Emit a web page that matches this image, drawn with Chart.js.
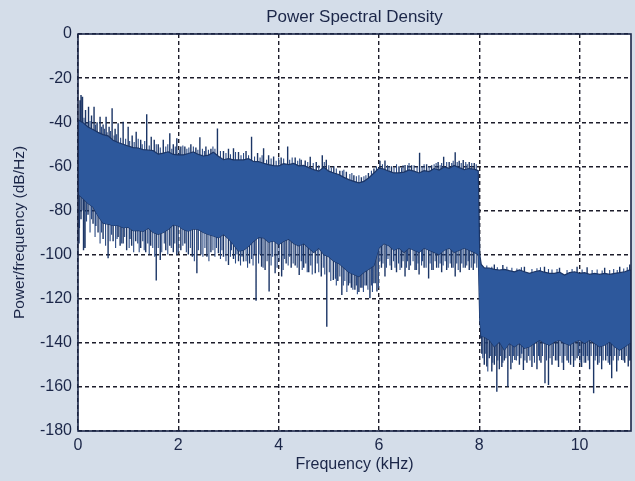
<!DOCTYPE html>
<html>
<head>
<meta charset="utf-8">
<script src="https://cdn.jsdelivr.net/npm/chart.js@4.4.1/dist/chart.umd.min.js"></script>
<style>
  html, body { margin: 0; padding: 0; background: #d4dde9; }
  #wrap { width: 635px; height: 481px; }
</style>
</head>
<body>
<div id="wrap"><canvas id="psd" width="635" height="481"></canvas></div>
<script>
// Frequency grid of the spectrum envelope (kHz)
const freqKHz = [
  0.0, 0.1, 0.2, 0.3, 0.4, 0.5, 0.6, 0.7, 0.8, 0.9,
  1.0, 1.1, 1.2, 1.3, 1.4, 1.5, 1.6, 1.7, 1.8, 1.9,
  2.0, 2.1, 2.2, 2.3, 2.4, 2.5, 2.6, 2.7, 2.8, 2.9,
  3.0, 3.1, 3.2, 3.3, 3.4, 3.5, 3.6, 3.7, 3.8, 3.9,
  4.0, 4.1, 4.2, 4.3, 4.4, 4.5, 4.6, 4.7, 4.8, 4.9,
  5.0, 5.1, 5.2, 5.3, 5.4, 5.5, 5.6, 5.7, 5.8, 5.9,
  6.0, 6.1, 6.2, 6.3, 6.4, 6.5, 6.6, 6.7, 6.8, 6.9,
  7.0, 7.1, 7.2, 7.3, 7.4, 7.5, 7.6, 7.7, 7.8, 7.9,
  7.98, 8.01, 8.04,
  8.1, 8.2, 8.3, 8.4, 8.5, 8.6, 8.7, 8.8, 8.9,
  9.0, 9.1, 9.2, 9.3, 9.4, 9.5, 9.6, 9.7, 9.8, 9.9,
  10.0, 10.1, 10.2, 10.3, 10.4, 10.5, 10.6, 10.7, 10.8, 10.9,
  11.0, 11.025
];

// Upper edge of the noise band (dB/Hz)
const upperDb = [
  -38.9, -40.2, -42.2, -43.3, -44.6, -45.6, -46.2, -48.2, -49.2, -50.0,
  -50.8, -51.5, -51.7, -52.4, -52.6, -52.9, -54.5, -54.0, -53.4, -54.6,
  -54.8, -54.8, -54.2, -53.5, -54.6, -55.3, -54.9, -53.6, -55.4, -57.0,
  -56.5, -57.1, -57.1, -57.1, -56.5, -57.8, -57.9, -58.6, -59.2, -59.7,
  -59.8, -58.8, -59.2, -58.7, -59.8, -59.6, -60.6, -61.5, -62.2, -60.4,
  -62.2, -63.0, -63.7, -65.0, -66.0, -66.8, -67.5, -66.8, -65.2, -63.0,
  -60.8, -61.3, -62.2, -63.0, -63.0, -62.6, -61.6, -62.2, -63.0, -62.0,
  -62.4, -61.0, -61.7, -60.3, -60.9, -59.6, -60.6, -61.5, -61.0, -61.3,
  -62.0, -100.0, -104.5,
  -106.0, -106.1, -106.7, -107.0, -106.7, -107.3, -107.8, -107.0, -107.8,
  -108.5, -107.8, -107.3, -108.0, -108.5, -108.5, -108.0, -109.3, -108.2, -107.8,
  -108.5, -108.2, -109.0, -108.5, -109.0, -108.5, -109.0, -108.5, -108.2, -107.8,
  -107.0, -107.2
];

// Lower edge of the noise band (dB/Hz)
const lowerDb = [
  -72.5, -74.6, -76.8, -78.4, -82.5, -85.8, -86.2, -86.8, -86.8, -87.8,
  -87.6, -89.2, -89.1, -89.5, -88.0, -90.0, -90.8, -90.0, -88.5, -86.5,
  -87.0, -88.6, -89.4, -88.4, -88.6, -90.0, -90.9, -91.6, -92.4, -90.8,
  -92.8, -95.5, -98.4, -98.0, -96.2, -94.0, -92.2, -92.4, -94.4, -93.8,
  -95.4, -94.0, -93.0, -95.0, -96.0, -95.0, -97.0, -99.0, -97.0, -100.0,
  -101.0, -103.0, -104.0, -106.0, -108.0, -109.0, -110.0, -108.0, -106.5, -105.0,
  -97.0, -95.0, -96.0, -98.0, -97.0, -99.0, -97.0, -98.0, -99.0, -97.0,
  -98.0, -99.0, -100.0, -98.0, -97.0, -99.0, -98.0, -97.0, -98.0, -99.0,
  -100.0, -130.0, -137.0,
  -137.4, -138.7, -141.8, -139.5, -143.3, -140.2, -141.8, -140.2, -142.5,
  -141.8, -140.2, -138.7, -140.2, -141.0, -139.5, -138.7, -140.2, -141.0, -139.5,
  -138.7, -140.2, -138.7, -140.2, -141.8, -141.0, -139.5, -141.8, -143.3, -141.8,
  -140.2, -140.0
];

// Prominent peaks rising above the band: [kHz, dB/Hz]
const peaksUp = [
  [0.04, -30.0], [0.06, -27.7], [0.09, -28.4], [0.15, -34.5], [0.21, -33.0], [0.27, -37.0],
  [0.32, -33.0], [0.38, -40.0], [0.44, -37.5], [0.50, -41.0], [0.56, -37.5], [0.62, -42.0],
  [0.68, -33.7], [0.74, -43.0], [0.80, -40.5], [0.90, -39.8], [1.00, -42.0], [1.08, -46.0],
  [1.16, -44.3], [1.25, -48.0], [1.37, -36.4], [1.46, -46.6], [1.52, -48.0], [1.60, -50.0],
  [1.70, -48.0], [1.83, -45.0], [1.90, -50.0], [1.97, -47.3], [2.05, -51.0], [2.13, -51.0],
  [2.25, -50.0], [2.35, -51.5], [2.43, -46.8], [2.55, -51.0], [2.65, -52.0], [2.78, -42.8],
  [2.90, -53.0], [3.00, -52.0], [3.10, -51.8], [3.20, -53.5], [3.35, -53.0], [3.46, -46.6],
  [3.58, -54.0], [3.70, -51.8], [3.80, -55.0], [3.90, -55.5], [4.05, -56.0], [4.18, -51.0],
  [4.33, -56.0], [4.45, -57.0], [4.53, -57.4], [4.63, -55.6], [4.75, -58.0], [4.87, -55.0],
  [4.95, -57.0], [5.10, -60.0], [5.22, -62.0], [5.35, -62.5], [5.50, -64.0], [5.65, -65.0],
  [5.79, -63.0], [5.90, -61.0], [6.02, -57.5], [6.12, -57.4], [6.25, -60.0], [6.40, -60.0],
  [6.52, -59.4], [6.65, -59.5], [6.81, -53.8], [6.95, -59.0], [7.05, -59.5], [7.18, -58.0],
  [7.29, -55.6], [7.40, -58.0], [7.52, -53.6], [7.60, -57.5], [7.68, -57.1], [7.80, -58.0],
  [7.90, -58.5],
  [8.30, -104.5], [8.47, -104.7], [8.90, -105.5], [9.30, -105.5], [9.60, -106.0],
  [9.95, -105.5], [10.15, -105.8], [10.50, -106.0], [10.80, -105.5], [11.00, -104.5]
];

// Small ripples along the top of the band: [kHz, dB/Hz]
const finePeaks = [
  [0.12, -38.0], [0.18, -40.0], [0.24, -39.5], [0.35, -41.0], [0.47, -42.0], [0.53, -43.0],
  [0.58, -44.5], [0.65, -44.0], [0.72, -46.0], [0.77, -45.5], [0.85, -47.0], [0.95, -47.5],
  [1.03, -48.5], [1.12, -49.0], [1.20, -47.5], [1.28, -50.0], [1.33, -48.5], [1.42, -50.5],
  [1.56, -50.0], [1.64, -51.5], [1.75, -51.0], [1.79, -50.0], [1.87, -52.0], [1.94, -51.0],
  [2.02, -52.5], [2.09, -50.5], [2.17, -52.0], [2.21, -51.5], [2.30, -51.0], [2.39, -52.5],
  [2.48, -52.0], [2.52, -53.0], [2.60, -52.5], [2.69, -51.0], [2.73, -52.0], [2.84, -53.0],
  [2.95, -54.0], [3.04, -54.5], [3.14, -53.5], [3.25, -55.0], [3.30, -54.0], [3.40, -55.0],
  [3.52, -55.5], [3.63, -56.0], [3.67, -55.0], [3.76, -57.0], [3.85, -56.5], [3.95, -57.5],
  [4.00, -56.0], [4.10, -56.5], [4.22, -57.0], [4.27, -56.0], [4.38, -57.5], [4.42, -56.5],
  [4.58, -58.0], [4.69, -58.5], [4.80, -59.5], [4.91, -58.0], [5.00, -59.5], [5.05, -60.5],
  [5.15, -61.0], [5.27, -62.0], [5.30, -61.5], [5.42, -63.5], [5.46, -63.0], [5.55, -64.5],
  [5.60, -64.0], [5.70, -64.5], [5.74, -64.0], [5.85, -62.0], [5.95, -60.0], [6.07, -59.0],
  [6.17, -59.5], [6.20, -60.0], [6.30, -60.5], [6.35, -59.0], [6.45, -60.5], [6.48, -59.5],
  [6.57, -59.5], [6.60, -58.5], [6.70, -59.5], [6.76, -60.0], [6.86, -60.0], [6.90, -59.0],
  [7.00, -60.0], [7.10, -59.0], [7.14, -58.5], [7.22, -59.5], [7.25, -58.5], [7.35, -58.0],
  [7.45, -58.5], [7.48, -57.5], [7.56, -58.0], [7.64, -58.5], [7.73, -58.0], [7.76, -59.0],
  [7.85, -58.5], [7.94, -59.0],
  [8.15, -105.0], [8.25, -105.5], [8.36, -105.8], [8.55, -105.5], [8.65, -106.0], [8.75, -106.3],
  [8.84, -105.8], [9.05, -106.5], [9.15, -106.2], [9.22, -105.8], [9.38, -106.6], [9.45, -106.8],
  [9.55, -106.5], [9.75, -107.0], [9.85, -106.5], [10.05, -106.8], [10.25, -107.0], [10.35, -106.8],
  [10.45, -107.2], [10.60, -107.0], [10.68, -106.5], [10.75, -107.0], [10.88, -106.3], [10.95, -105.8]
];

// Prominent dips falling below the band: [kHz, dB/Hz]
const dipsDown = [
  [0.02, -95.0], [0.06, -84.0], [0.11, -98.0], [0.14, -97.0], [0.20, -82.0], [0.30, -86.0],
  [0.40, -90.0], [0.50, -93.0], [0.60, -101.7], [0.70, -94.0], [0.80, -92.0], [0.84, -96.0],
  [0.90, -95.0], [0.97, -98.0], [1.07, -96.0], [1.15, -94.0], [1.25, -97.0], [1.35, -99.0],
  [1.45, -96.0], [1.56, -111.8], [1.64, -102.5], [1.75, -98.0], [1.83, -96.0], [1.90, -99.0],
  [1.97, -100.2], [2.05, -98.0], [2.13, -95.0], [2.20, -100.0], [2.28, -101.0], [2.37, -108.5],
  [2.45, -100.0], [2.57, -101.0], [2.65, -99.0], [2.80, -99.4], [2.90, -101.0], [3.00, -104.7],
  [3.10, -102.0], [3.20, -103.0], [3.30, -103.2], [3.42, -104.0], [3.55, -120.9], [3.66, -105.5],
  [3.73, -107.0], [3.81, -116.8], [3.93, -108.5], [4.06, -110.0], [4.15, -104.0], [4.25, -106.0],
  [4.33, -105.0], [4.41, -109.3], [4.50, -106.0], [4.60, -108.0], [4.73, -108.5], [4.85, -110.0],
  [4.96, -132.7], [5.09, -111.5], [5.18, -112.0], [5.26, -118.3], [5.39, -114.0], [5.45, -115.0],
  [5.52, -116.0], [5.60, -117.0], [5.66, -115.0], [5.75, -114.0], [5.82, -119.8], [5.90, -113.0],
  [5.96, -116.8], [6.05, -106.0], [6.12, -110.0], [6.25, -107.0], [6.35, -108.0], [6.45, -106.0],
  [6.52, -110.0], [6.60, -107.0], [6.72, -107.0], [6.80, -109.0], [6.90, -106.0], [6.99, -110.8],
  [7.08, -107.0], [7.15, -106.0], [7.25, -108.0], [7.35, -107.0], [7.45, -106.0], [7.52, -110.0],
  [7.62, -108.0], [7.72, -106.0], [7.80, -107.0], [7.88, -107.0],
  [8.03, -138.0], [8.05, -145.0], [8.10, -150.0], [8.15, -150.8], [8.20, -147.0], [8.25, -153.0],
  [8.30, -150.0], [8.35, -162.2], [8.40, -152.0], [8.45, -151.0], [8.50, -148.0], [8.57, -159.9],
  [8.63, -152.0], [8.71, -147.8], [8.80, -150.0], [8.88, -152.3], [8.95, -149.0], [9.05, -151.0],
  [9.15, -152.0], [9.23, -149.0], [9.31, -158.4], [9.38, -159.1], [9.45, -150.0], [9.52, -148.0],
  [9.58, -151.0], [9.68, -152.3], [9.75, -148.0], [9.82, -150.0], [9.88, -151.0], [9.95, -147.0],
  [10.04, -151.0], [10.12, -149.0], [10.20, -152.0], [10.28, -162.9], [10.36, -150.0], [10.44, -152.0],
  [10.52, -148.0], [10.60, -150.0], [10.64, -156.1], [10.74, -153.0], [10.84, -147.8], [10.90, -149.0],
  [10.97, -150.8], [11.01, -148.0]
];

// Short dips along the bottom of the band: [kHz, dB/Hz]
const fineDips = [
  [0.03, -88.0], [0.08, -80.0], [0.17, -85.0], [0.24, -90.0], [0.27, -84.0], [0.34, -92.0],
  [0.36, -87.0], [0.44, -95.0], [0.47, -90.0], [0.55, -96.0], [0.64, -94.0], [0.67, -91.0],
  [0.75, -97.0], [0.78, -93.0], [0.87, -95.0], [0.93, -92.0], [1.02, -97.0], [1.04, -93.0],
  [1.11, -99.0], [1.19, -95.0], [1.22, -99.0], [1.29, -94.0], [1.32, -98.0], [1.39, -95.0],
  [1.42, -100.0], [1.49, -97.0], [1.53, -101.0], [1.60, -97.0], [1.67, -99.0], [1.72, -95.0],
  [1.79, -100.0], [1.86, -97.0], [1.93, -95.0], [2.00, -99.0], [2.09, -96.0], [2.16, -99.0],
  [2.24, -97.0], [2.32, -103.0], [2.40, -98.0], [2.49, -101.0], [2.53, -97.0], [2.61, -103.0],
  [2.69, -98.0], [2.73, -101.0], [2.76, -97.0], [2.84, -102.0], [2.87, -98.0], [2.95, -103.0],
  [3.04, -101.0], [3.06, -98.0], [3.14, -104.0], [3.17, -100.0], [3.24, -105.0], [3.27, -101.0],
  [3.35, -103.0], [3.38, -106.0], [3.46, -102.0], [3.49, -105.0], [3.52, -100.0], [3.60, -104.0],
  [3.63, -100.0], [3.69, -106.0], [3.77, -103.0], [3.85, -105.0], [3.88, -101.0], [3.97, -106.0],
  [4.01, -103.0], [4.09, -107.0], [4.12, -102.0], [4.19, -105.0], [4.22, -101.0], [4.29, -104.0],
  [4.37, -106.0], [4.45, -103.0], [4.47, -107.0], [4.54, -104.0], [4.57, -108.0], [4.64, -105.0],
  [4.67, -109.0], [4.77, -104.0], [4.80, -108.0], [4.89, -106.0], [4.92, -109.0], [5.01, -108.0],
  [5.04, -112.0], [5.13, -111.0], [5.15, -114.0], [5.22, -110.0], [5.29, -114.0], [5.32, -112.0],
  [5.36, -117.0], [5.42, -113.0], [5.48, -116.0], [5.55, -114.0], [5.57, -118.0], [5.63, -115.0],
  [5.69, -117.0], [5.72, -114.0], [5.78, -116.0], [5.85, -114.0], [5.87, -117.0], [5.93, -113.0],
  [5.99, -115.0], [6.02, -103.0], [6.08, -104.0], [6.15, -106.0], [6.18, -102.0], [6.22, -105.0],
  [6.29, -103.0], [6.32, -106.0], [6.39, -104.0], [6.42, -107.0], [6.48, -103.0], [6.55, -106.0],
  [6.57, -103.0], [6.63, -105.0], [6.68, -103.0], [6.75, -107.0], [6.78, -104.0], [6.85, -105.0],
  [6.87, -103.0], [6.94, -106.0], [7.02, -104.0], [7.05, -107.0], [7.12, -103.0], [7.19, -106.0],
  [7.22, -104.0], [7.28, -105.0], [7.32, -103.0], [7.38, -106.0], [7.42, -104.0], [7.48, -106.0],
  [7.55, -104.0], [7.58, -107.0], [7.65, -104.0], [7.68, -106.0], [7.75, -105.0], [7.78, -103.0],
  [7.84, -106.0], [7.91, -104.0], [7.95, -106.0],
  [8.07, -147.0], [8.12, -145.0], [8.17, -153.0], [8.22, -146.0], [8.27, -149.0], [8.32, -146.0],
  [8.37, -148.0], [8.42, -146.0], [8.47, -149.0], [8.53, -147.0], [8.60, -146.0], [8.66, -149.0],
  [8.68, -146.0], [8.74, -148.0], [8.77, -146.0], [8.83, -147.0], [8.85, -145.0], [8.91, -148.0],
  [8.98, -146.0], [9.01, -148.0], [9.08, -146.0], [9.10, -149.0], [9.18, -146.0], [9.20, -148.0],
  [9.26, -146.0], [9.34, -148.0], [9.41, -147.0], [9.48, -146.0], [9.55, -148.0], [9.61, -146.0],
  [9.65, -149.0], [9.71, -146.0], [9.78, -149.0], [9.85, -146.0], [9.91, -148.0], [9.98, -146.0],
  [10.01, -149.0], [10.07, -146.0], [10.09, -149.0], [10.15, -146.0], [10.17, -148.0], [10.23, -146.0],
  [10.31, -148.0], [10.33, -146.0], [10.39, -149.0], [10.41, -146.0], [10.47, -148.0], [10.55, -146.0],
  [10.57, -149.0], [10.62, -146.0], [10.67, -148.0], [10.70, -146.0], [10.77, -148.0], [10.80, -146.0],
  [10.87, -148.0], [10.93, -146.0], [10.99, -148.0]
];

// Axis tick values
const xTickValues = [0, 2, 4, 6, 8, 10];
const yTickValues = [0, -20, -40, -60, -80, -100, -120, -140, -160, -180];

const INK = '#1b2648';
const BAND_FILL = '#2d589c';
const BAND_EDGE = '#1b3566';
const FINE_EDGE = '#2a4a84';
const FONT = '"Liberation Sans", Arial, sans-serif';

// Each peak/dip is a vertical stroke anchored inside the band
function strokes(list) {
  const pts = [];
  list.forEach(([f, tip]) => {
    const anchor = f < 8 ? -70 : -124;
    pts.push({ x: f, y: anchor }, { x: f, y: tip }, { x: f, y: null });
  });
  return pts;
}

const upperPts = freqKHz.map((f, i) => ({ x: f, y: upperDb[i] }));
const lowerPts = freqKHz.map((f, i) => ({ x: f, y: lowerDb[i] }));

const frame = {
  id: 'frame',
  beforeDraw(chart) {
    const { ctx, chartArea: a } = chart;
    ctx.save();
    ctx.fillStyle = '#ffffff';
    ctx.fillRect(a.left, a.top, a.right - a.left, a.bottom - a.top);
    ctx.restore();
  },
  afterDatasetsDraw(chart) {
    const { ctx, chartArea: a } = chart;
    ctx.save();
    ctx.strokeStyle = INK;
    ctx.lineWidth = 1.6;
    ctx.strokeRect(a.left, a.top, a.right - a.left, a.bottom - a.top);
    ctx.restore();
  },
  afterDraw(chart) {
    const { ctx, chartArea: a } = chart;
    ctx.save();
    ctx.fillStyle = INK;
    ctx.font = '17px ' + FONT;
    ctx.textAlign = 'center';
    ctx.textBaseline = 'middle';
    ctx.fillText('Power Spectral Density', (a.left + a.right) / 2, 17);
    ctx.restore();
  }
};

new Chart(document.getElementById('psd'), {
  type: 'line',
  data: {
    datasets: [
      {
        data: upperPts,
        borderColor: BAND_EDGE,
        borderWidth: 1.2,
        backgroundColor: BAND_FILL,
        fill: '+1',
        pointRadius: 0,
        order: 1
      },
      {
        data: lowerPts,
        borderColor: BAND_EDGE,
        borderWidth: 1.2,
        fill: false,
        pointRadius: 0,
        order: 1
      },
      {
        data: strokes(peaksUp).concat(strokes(dipsDown)),
        borderColor: BAND_EDGE,
        borderWidth: 1.4,
        fill: false,
        pointRadius: 0,
        spanGaps: false,
        order: 2
      },
      {
        data: strokes(finePeaks).concat(strokes(fineDips)),
        borderColor: FINE_EDGE,
        borderWidth: 1.1,
        fill: false,
        pointRadius: 0,
        spanGaps: false,
        order: 3
      }
    ]
  },
  options: {
    responsive: false,
    animation: false,
    devicePixelRatio: 1,
    layout: { padding: { top: 34, right: 4, left: 0, bottom: 0 } },
    plugins: {
      legend: { display: false },
      tooltip: { enabled: false },
      title: { display: false }
    },
    scales: {
      x: {
        type: 'linear',
        min: 0,
        max: 11.025,
        afterBuildTicks: s => { s.ticks = xTickValues.map(v => ({ value: v })); },
        afterFit: s => { s.height = 50; },
        grid: { color: '#1d1d2b', lineWidth: 1.4, drawTicks: false },
        border: { display: false, dash: [4, 3] },
        ticks: { color: INK, font: { family: FONT, size: 16 }, padding: 5, maxRotation: 0 },
        title: { display: true, text: 'Frequency (kHz)', color: INK,
                 font: { family: FONT, size: 16 }, padding: { top: 0, bottom: 6.5 } }
      },
      y: {
        type: 'linear',
        min: -180,
        max: 0,
        afterBuildTicks: s => { s.ticks = yTickValues.map(v => ({ value: v })); },
        afterFit: s => { s.width = 78; },
        grid: { color: '#1d1d2b', lineWidth: 1.4, drawTicks: false },
        border: { display: false, dash: [4, 3] },
        ticks: { color: INK, font: { family: FONT, size: 16 }, padding: 6 },
        title: { display: true, text: 'Power/frequency (dB/Hz)', color: INK,
                 font: { family: FONT, size: 15.5 }, padding: { top: 10.7, bottom: 0 } }
      }
    }
  },
  plugins: [frame]
});
</script>
</body>
</html>
